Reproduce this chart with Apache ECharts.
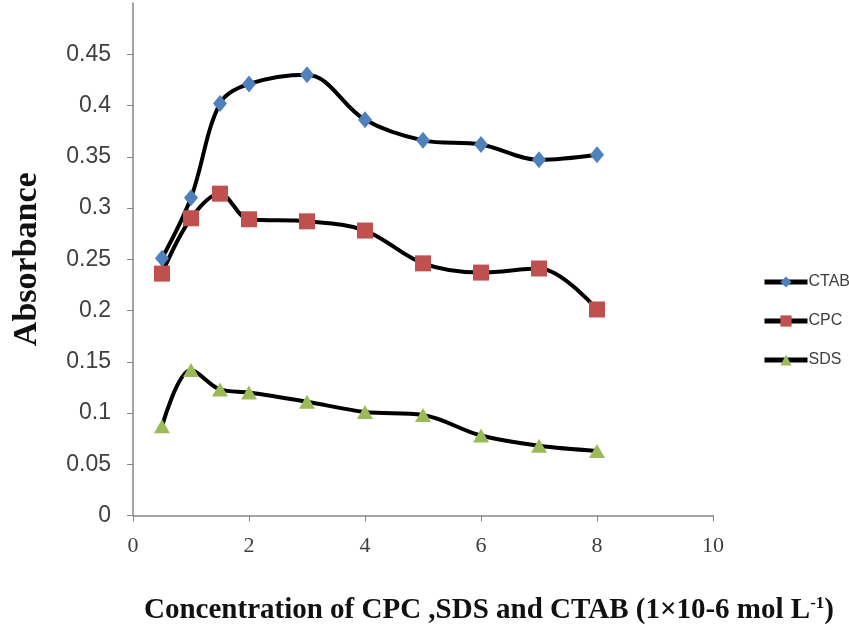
<!DOCTYPE html>
<html>
<head>
<meta charset="utf-8">
<script src="https://cdn.jsdelivr.net/npm/echarts@6/dist/echarts.min.js"></script>
<style>
  html, body { margin: 0; padding: 0; background: #fff; }
  #chart { width: 849px; height: 630px; }
</style>
</head>
<body>
<div id="chart"></div>
<script>
var conc = [0.5, 1, 1.5, 2, 3, 4, 5, 6, 7, 8];
var ctab = [0.251, 0.31, 0.402, 0.421, 0.43, 0.386, 0.366, 0.362, 0.347, 0.352];
var cpc = [0.236, 0.29, 0.314, 0.289, 0.287, 0.278, 0.246, 0.237, 0.241, 0.201];
var sds = [0.087, 0.142, 0.123, 0.12, 0.111, 0.101, 0.098, 0.078, 0.068, 0.063];

function pairs(ys) {
  return conc.map(function (x, i) { return [x, ys[i]]; });
}

var myChart = echarts.init(document.getElementById('chart'));
var serif = 'Liberation Serif, Times New Roman, serif';
var sans = 'Liberation Sans, Arial, sans-serif';

function makeSeries(name, ys, symbol, color, size) {
  return {
    name: name,
    type: 'line',
    smooth: 0.35,
    data: pairs(ys),
    symbol: symbol,
    symbolSize: size,
    lineStyle: { color: '#000', width: 4 },
    itemStyle: { color: color },
    z: 2
  };
}

var option = {
  animation: false,
  backgroundColor: '#fff',
  grid: { left: 133, right: 136, top: 3, bottom: 110 },
  legend: {
    orient: 'vertical',
    left: 757,
    top: 269,
    itemWidth: 43,
    itemHeight: 14,
    itemGap: 23,
    lineStyle: { width: 5, color: '#000' },
    textStyle: { fontFamily: sans, fontSize: 16, color: '#404040', padding: [0, 0, 0, -4] },
    data: ['CTAB', 'CPC', 'SDS']
  },
  xAxis: {
    type: 'value',
    min: 0,
    max: 10,
    interval: 2,
    splitLine: { show: false },
    axisLine: { onZero: false, lineStyle: { color: '#868686', width: 1.5 } },
    axisTick: { show: true, length: 6, lineStyle: { color: '#868686' } },
    axisLabel: { fontFamily: serif, fontSize: 22, color: '#404040', margin: 20 },
    name: 'Concentration of CPC ,SDS and CTAB (1×10-6 mol L{sup|-1})',
    nameLocation: 'middle',
    nameGap: 80,
    nameTextStyle: {
      fontFamily: serif, fontSize: 29, fontWeight: 'bold', color: '#111',
      padding: [0, 0, 0, 132],
      rich: {
        sup: { fontFamily: serif, fontSize: 17, fontWeight: 'bold', color: '#111', padding: [0, 0, 13, 0] }
      }
    }
  },
  yAxis: {
    type: 'value',
    min: 0,
    max: 0.5,
    interval: 0.05,
    splitLine: { show: false },
    axisLine: { show: true, lineStyle: { color: '#868686', width: 1.5 } },
    axisTick: { show: true, length: 6, lineStyle: { color: '#868686' } },
    axisLabel: {
      fontFamily: sans, fontSize: 23, color: '#404040', margin: 22,
      showMaxLabel: false,
      formatter: function (v) { return String(+v.toFixed(2)); }
    },
    name: 'Absorbance',
    nameLocation: 'middle',
    nameGap: 89,
    nameTextStyle: { fontFamily: serif, fontSize: 34, fontWeight: 'bold', color: '#111' }
  },
  series: [
    makeSeries('CTAB', ctab, 'diamond', '#4f81bd', [14, 17]),
    makeSeries('CPC', cpc, 'rect', '#c0504d', 16),
    makeSeries('SDS', sds, 'triangle', '#9bbb59', [16, 14])
  ]
};

myChart.setOption(option);
window.addEventListener('resize', function () {
  myChart.resize();
});
</script>
</body>
</html>
